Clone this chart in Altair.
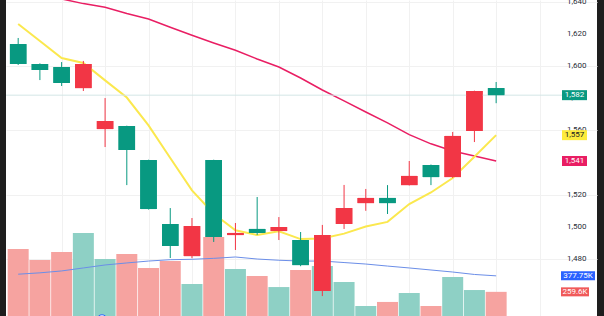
import altair as alt
import pandas as pd

# ---- data ----
idx = list(range(1, 24))
opens = [1613.8, 1601.4, 1599.5, 1586.4, 1560.9, 1562.8, 1541.6, 1501.8, 1481.8, 1541.6, 1494.9, 1498.7,
         1497.4, 1491.8, 1460.1, 1501.8, 1514.8, 1518.0, 1526.0, 1538.5, 1531.0, 1559.7, 1586.4]
highs = [1617.6, 1601.8, 1602.6, 1603.3, 1580.2, 1563.0, 1541.8, 1511.7, 1505.5, 1541.8, 1502.4, 1518.6,
         1506.1, 1496.8, 1501.2, 1526.1, 1523.6, 1526.0, 1541.0, 1538.8, 1559.1, 1584.8, 1590.2]
lows = [1600.8, 1591.4, 1587.7, 1584.6, 1549.7, 1526.0, 1510.8, 1480.6, 1480.5, 1490.6, 1485.6, 1495.0,
        1491.8, 1475.5, 1456.9, 1498.7, 1510.0, 1508.0, 1525.8, 1526.0, 1530.5, 1552.8, 1577.0]
closes = [1601.4, 1597.7, 1589.6, 1601.4, 1565.9, 1547.8, 1511.1, 1488.1, 1500.5, 1493.7, 1496.2, 1496.2,
          1499.9, 1476.2, 1495.0, 1511.7, 1518.0, 1514.8, 1531.7, 1531.0, 1556.6, 1584.6, 1582.0]
volume_k = [576, 495, 554, 694, 502, 539, 436, 487, 318, 665, 428, 377, 295, 421, 450, 332, 155, 185,
            251, 155, 369, 273, 259.6]
vol_ma_k = [390, 400, 414, 436, 458, 473, 487, 497, 500, 507, 517, 502, 493, 487, 487, 476, 465, 450,
            436, 421, 406, 388, 377.75]
ma_fast = [1626.3, 1615.7, 1605.1, 1602.0, 1591.2, 1580.5, 1563.2, 1542.9, 1522.7, 1508.2, 1497.9, 1494.9,
           1497.3, 1492.4, 1492.7, 1495.8, 1500.2, 1503.1, 1514.2, 1521.4, 1530.4, 1543.7, 1557.1]
ma_slow = [1648.7, 1645.0, 1641.9, 1639.0, 1636.7, 1632.8, 1629.4, 1624.3, 1619.3, 1614.5, 1610.0, 1604.5,
           1599.5, 1592.7, 1585.2, 1578.4, 1571.5, 1564.7, 1557.4, 1551.7, 1547.2, 1544.1, 1541.0]
price_ticks = [1480, 1500, 1520, 1540, 1560, 1580, 1600, 1620, 1640]
grid_x = [3, 5, 7, 9, 11, 13, 15, 17, 19, 21, 23, 25]

# ---- styling ----
UP, DOWN = "#f23645", "#089981"
VOL_UP, VOL_DOWN = "#8ed0c5", "#f6a3a0"
YELLOW, PINK, BLUE = "#fbe84e", "#e91e63", "#6b8ee8"
GRID = "#f1f1f1"

W, H = 591, 316
x_scale = alt.Scale(domain=[0.6697, 27.412], nice=False, zero=False)
p_scale = alt.Scale(domain=[1444.5, 1641.25], nice=False, zero=False)
v_scale = alt.Scale(domain=[81200, 2415000], nice=False, zero=False)

df = pd.DataFrame({
    "i": idx, "o": opens, "h": highs, "l": lows, "c": closes,
    "v": [v * 1000 for v in volume_k], "vma": [v * 1000 for v in vol_ma_k],
    "f": ma_fast, "s": ma_slow,
})
df["col"] = [UP if c > o else DOWN for o, c in zip(opens, closes)]
df["vcol"] = [VOL_UP if c > o else VOL_DOWN for o, c in zip(opens, closes)]

base = alt.Chart(df)
X = alt.X("i:Q", scale=x_scale, title=None)

# volume panel
vol_bars = base.mark_bar(size=21, clip=True).encode(
    x=X, y=alt.Y("v:Q", scale=v_scale, axis=None), y2=alt.datum(0),
    color=alt.Color("vcol:N", scale=None))
vol_line = base.mark_line(strokeWidth=1, color=BLUE, clip=True).encode(
    x=X, y=alt.Y("vma:Q", scale=v_scale, axis=None))

vtags = pd.DataFrame({
    "val": [vol_ma_k[-1] * 1000, volume_k[-1] * 1000],
    "label": [f"{vol_ma_k[-1]}K", f"{volume_k[-1]}K"],
    "bg": ["#2962ff", "#f05a5a"],
})
vtag_box1 = alt.Chart(vtags.iloc[[0]]).mark_rule(strokeWidth=9, strokeCap="butt").encode(
    y=alt.Y("val:Q", scale=v_scale, axis=None), x=alt.value(555), x2=alt.value(589),
    color=alt.Color("bg:N", scale=None))
vtag_box2 = alt.Chart(vtags.iloc[[1]]).mark_rule(strokeWidth=9, strokeCap="butt").encode(
    y=alt.Y("val:Q", scale=v_scale, axis=None), x=alt.value(555), x2=alt.value(583),
    color=alt.Color("bg:N", scale=None))
vtag_txt1 = alt.Chart(vtags.iloc[[0]]).mark_text(fontSize=8, font="Roboto", color="white",
                                                   baseline="middle", align="center").encode(
    y=alt.Y("val:Q", scale=v_scale, axis=None), x=alt.value(572), text="label:N")
vtag_txt2 = alt.Chart(vtags.iloc[[1]]).mark_text(fontSize=8, font="Roboto", color="white",
                                                   baseline="middle", align="center").encode(
    y=alt.Y("val:Q", scale=v_scale, axis=None), x=alt.value(569), text="label:N")

vol_group = alt.layer(vol_bars, vol_line, vtag_box1, vtag_box2, vtag_txt1, vtag_txt2)

# price panel
Yp = lambda f: alt.Y(f, scale=p_scale, title=None)
bodies_axis = alt.Axis(orient="right", values=price_ticks, grid=True, gridColor=GRID, domain=False,
                       ticks=False, labels=False, title=None)
x_axis = alt.Axis(values=grid_x, grid=True, gridColor=GRID, labels=False, ticks=False, domain=False,
                  title=None)

slow_line = base.mark_line(strokeWidth=1.5, color=PINK, clip=True).encode(x=X, y=Yp("s:Q"))
fast_line = base.mark_line(strokeWidth=2, color=YELLOW, clip=True).encode(x=X, y=Yp("f:Q"))
price_line = alt.Chart(pd.DataFrame({"p": [closes[-1]]})).mark_rule(
    color="#d3e6e6", strokeWidth=1).encode(y=Yp("p:Q"), x=alt.value(0), x2=alt.value(556))
wicks = base.mark_rule(strokeWidth=1, clip=True).encode(
    x=X, y=Yp("l:Q"), y2="h:Q", color=alt.Color("col:N", scale=None))
bodies = base.mark_bar(size=16.5, clip=True).encode(
    x=alt.X("i:Q", scale=x_scale, axis=x_axis),
    y=alt.Y("o:Q", scale=p_scale, axis=bodies_axis), y2="c:Q",
    color=alt.Color("col:N", scale=None))

# price-axis labels as text (drawn under the value tags)
ticks_df = pd.DataFrame({"t": price_ticks, "lab": [f"{t:,d}" for t in price_ticks]})
tick_labels = alt.Chart(ticks_df).mark_text(
    fontSize=8, font="Roboto", color="#2a2e39", align="left", baseline="middle").encode(
    y=Yp("t:Q"), x=alt.value(561), text="lab:N")

ptags = pd.DataFrame({
    "val": [closes[-1], ma_fast[-1], ma_slow[-1]],
    "label": [f"{closes[-1]:,.0f}", f"{ma_fast[-1]:,.0f}", f"{ma_slow[-1]:,.0f}"],
    "bg": [DOWN, "#fdeb3d", PINK],
    "fg": ["#ffffff", "#131722", "#ffffff"],
})
ptag_box = alt.Chart(ptags).mark_rule(strokeWidth=10, strokeCap="butt").encode(
    y=Yp("val:Q"), x=alt.value(556), x2=alt.value(581), color=alt.Color("bg:N", scale=None))
ptag_txt = alt.Chart(ptags).mark_text(fontSize=8, font="Roboto", baseline="middle",
                                      align="center").encode(
    y=Yp("val:Q"), x=alt.value(568.5), text="label:N", color=alt.Color("fg:N", scale=None))

# small logo circle at the bottom edge
logo = alt.Chart(pd.DataFrame({"k": [0]})).mark_point(
    shape="circle", filled=True, fill="white", stroke="#2962ff", strokeWidth=1, size=110,
    opacity=1).encode(x=alt.value(96), y=alt.value(320))

price_group = alt.layer(bodies, slow_line, fast_line, price_line, wicks, bodies, tick_labels,
                        ptag_box, ptag_txt, logo)

chart = alt.layer(vol_group, price_group).resolve_scale(y="independent").properties(
    width=W, height=H, autosize="none",
    padding={"left": 6, "right": 7, "top": 0, "bottom": 0},
    background="#1e1e1e",
).configure_view(fill="white", strokeWidth=0)

chart.save("out.html", embed_options={"renderer": "svg", "actions": False})
